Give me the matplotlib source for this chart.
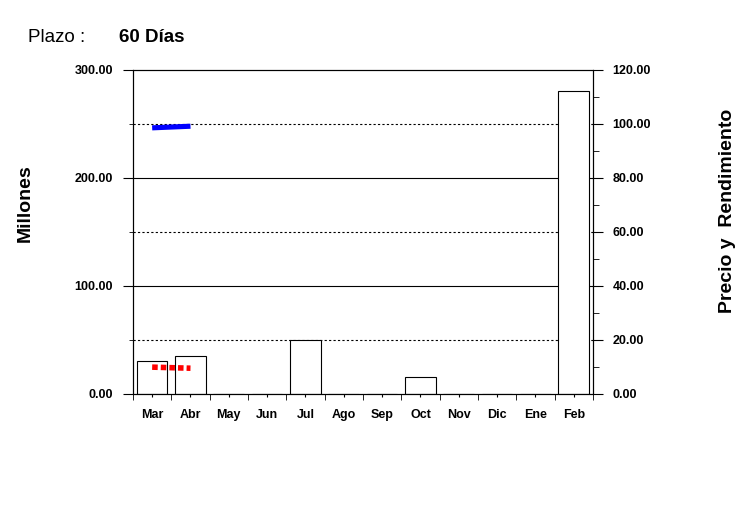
import numpy as np
import matplotlib.pyplot as plt
from matplotlib.ticker import MultipleLocator, FormatStrFormatter

plt.rcParams['font.family'] = ['Liberation Sans', 'DejaVu Sans']

# datos
meses = ['Mar', 'Abr', 'May', 'Jun', 'Jul', 'Ago', 'Sep', 'Oct', 'Nov', 'Dic', 'Ene', 'Feb']
millones = [30, 35, 0, 0, 50, 0, 0, 15, 0, 0, 0, 280]
precio = [98.5, 99.1]
rendimiento = [9.8, 9.4]

x = np.arange(len(meses))

fig = plt.figure(figsize=(7.43, 5.29), dpi=100)
ax = fig.add_axes([0.179, 0.256, 0.619, 0.612])

# rejilla
for v in [100, 200]:
    ax.axhline(v, color='black', lw=0.8, zorder=0)
for v in [50, 150, 250]:
    ax.axhline(v, color='black', lw=0.8, ls=(0, (2, 2)), zorder=0)

# barras
ax.bar(x, millones, width=0.8, color='white', edgecolor='black', lw=0.8, zorder=2)

ax.set_xlim(-0.5, len(meses) - 0.5)
ax.set_ylim(0, 300)
ax.yaxis.set_major_locator(MultipleLocator(100))
ax.yaxis.set_minor_locator(MultipleLocator(50))
ax.yaxis.set_major_formatter(FormatStrFormatter('%.2f'))
ax.set_xticks(x)
ax.set_xticklabels(meses)
ax.set_xticks(np.arange(-0.5, len(meses)), minor=True)
ax.tick_params(axis='x', which='major', length=2.3, pad=9)
ax.tick_params(axis='x', which='minor', length=4.5)
ax.tick_params(axis='y', which='major', length=7.5, pad=7)
ax.tick_params(axis='y', which='minor', length=3)
for lab in ax.get_xticklabels() + ax.get_yticklabels():
    lab.set_fontweight('bold')
    lab.set_fontsize(9)

# eje derecho
ax2 = ax.twinx()
ax2.set_ylim(0, 120)
ax2.yaxis.set_major_locator(MultipleLocator(20))
ax2.yaxis.set_minor_locator(MultipleLocator(10))
ax2.yaxis.set_major_formatter(FormatStrFormatter('%.2f'))
ax2.tick_params(axis='y', which='major', length=7, pad=7)
ax2.tick_params(axis='y', which='minor', length=4)
for lab in ax2.get_yticklabels():
    lab.set_fontweight('bold')
    lab.set_fontsize(9)

ax2.plot(x[:len(precio)], precio, color='#0000ff', lw=3.7, solid_capstyle='butt', zorder=3)
ax2.plot(x[:len(rendimiento)], rendimiento, color='#ff0000', lw=4,
         ls=(0, (1, 0.55)), dash_capstyle='butt', zorder=3)

fig.text(25 / 743, 1 - 203 / 529, 'Millones', rotation=90, fontsize=14,
         fontweight='bold', ha='center', va='center')
fig.text(727 / 743, 1 - 211 / 529, 'Precio y  Rendimiento', rotation=90, fontsize=14,
         fontweight='bold', ha='center', va='center')

fig.text(28 / 743, 1 - 42 / 529, 'Plazo :', fontsize=13.5, va='baseline')
fig.text(119 / 743, 1 - 42 / 529, '60 Días', fontsize=13.5, fontweight='bold', va='baseline')

fig.savefig('out.png', dpi=100)
